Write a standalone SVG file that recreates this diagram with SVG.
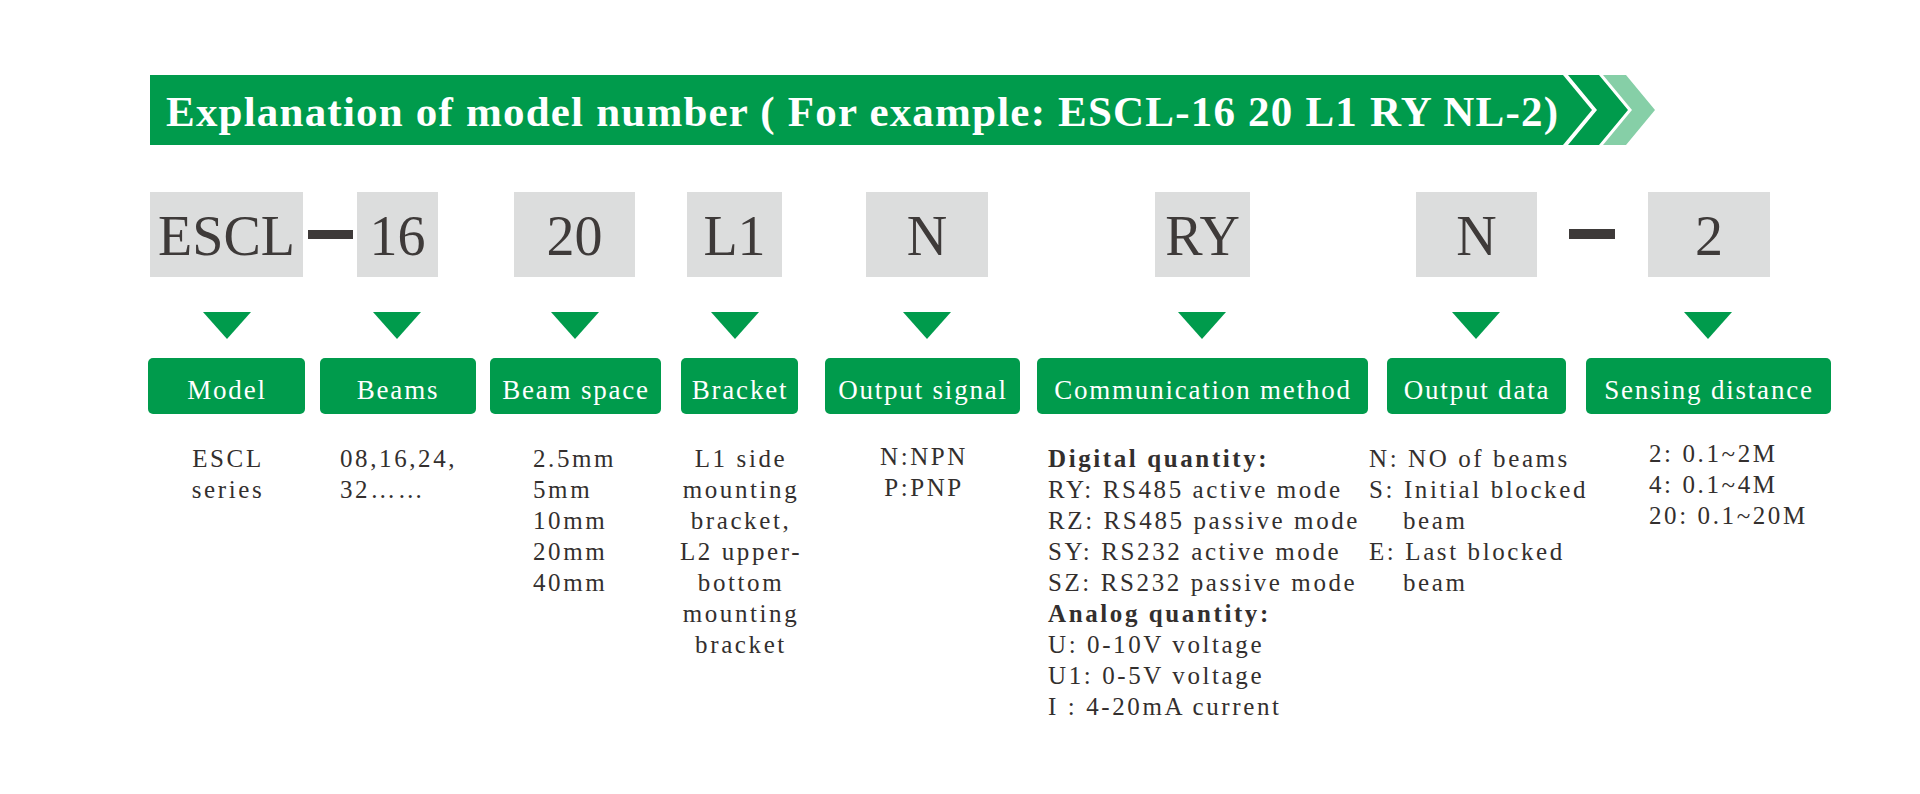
<svg xmlns="http://www.w3.org/2000/svg" width="1920" height="794" viewBox="0 0 1920 794">
<style>
.code{fill:#dcdddd}
.codet{font-family:"Liberation Serif",serif;font-size:56px;fill:#3e3a39;text-anchor:middle}
.lab{fill:#009b4c}
.labt{font-family:"Liberation Serif",serif;font-size:27px;fill:#ffffff;text-anchor:middle;letter-spacing:1.8px}
.d{font-family:"Liberation Serif",serif;font-size:25px;fill:#332f2e;letter-spacing:2.6px}
.m{text-anchor:middle}
.b{font-weight:bold}
.dash{fill:#3e3a39}
.tri{fill:#009b4c}
</style>
<rect width="1920" height="794" fill="#ffffff"/>
<g id="banner">
<polygon points="150,75 1563,75 1592,110 1563,145 150,145" fill="#009b4c"/>
<polygon points="1568,75 1599,75 1628,110 1599,145 1568,145 1597,110" fill="#009b4c"/>
<polygon points="1603,75 1626,75 1655,110 1626,145 1603,145 1632,110" fill="#86cfa7"/>
<text x="166" y="126" font-family="'Liberation Serif',serif" font-size="43" font-weight="bold" fill="#ffffff" textLength="1392" lengthAdjust="spacing">Explanation of model number ( For example: ESCL-16 20 L1 RY NL-2)</text>
</g>
<g id="separators">
<rect class="dash" x="308" y="230" width="45" height="9"/>
<rect class="dash" x="1569" y="229" width="46" height="10"/>
</g>
<g id="connectors">
<polygon class="tri" points="203,312 251,312 227,339"/>
<polygon class="tri" points="373,312 421,312 397,339"/>
<polygon class="tri" points="551,312 599,312 575,339"/>
<polygon class="tri" points="711,312 759,312 735,339"/>
<polygon class="tri" points="903,312 951,312 927,339"/>
<polygon class="tri" points="1178,312 1226,312 1202,339"/>
<polygon class="tri" points="1452,312 1500,312 1476,339"/>
<polygon class="tri" points="1684,312 1732,312 1708,339"/>
</g>
<g id="code-escl"><rect class="code" x="150" y="192" width="153" height="85"/><text class="codet" x="226.5" y="255">ESCL</text></g>
<g id="code-16"><rect class="code" x="357" y="192" width="81" height="85"/><text class="codet" x="397.5" y="255">16</text></g>
<g id="code-20"><rect class="code" x="514" y="192" width="121" height="85"/><text class="codet" x="574.5" y="255">20</text></g>
<g id="code-l1"><rect class="code" x="687" y="192" width="95" height="85"/><text class="codet" x="734.5" y="255">L1</text></g>
<g id="code-n"><rect class="code" x="866" y="192" width="122" height="85"/><text class="codet" x="927" y="255">N</text></g>
<g id="code-ry"><rect class="code" x="1155" y="192" width="95" height="85"/><text class="codet" x="1202.5" y="255">RY</text></g>
<g id="code-n2"><rect class="code" x="1416" y="192" width="121" height="85"/><text class="codet" x="1476.5" y="255">N</text></g>
<g id="code-2"><rect class="code" x="1648" y="192" width="122" height="85"/><text class="codet" x="1709" y="255">2</text></g>
<g id="label-model"><rect class="lab" x="148" y="358" width="157" height="56" rx="5"/><text class="labt" x="227" y="399">Model</text></g>
<g id="label-beams"><rect class="lab" x="320" y="358" width="156" height="56" rx="5"/><text class="labt" x="398" y="399">Beams</text></g>
<g id="label-beamspace"><rect class="lab" x="490" y="358" width="171" height="56" rx="5"/><text class="labt" x="576" y="399">Beam space</text></g>
<g id="label-bracket"><rect class="lab" x="681" y="358" width="117" height="56" rx="5"/><text class="labt" x="740" y="399">Bracket</text></g>
<g id="label-output"><rect class="lab" x="825" y="358" width="195" height="56" rx="5"/><text class="labt" x="923" y="399">Output signal</text></g>
<g id="label-comm"><rect class="lab" x="1037" y="358" width="331" height="56" rx="5"/><text class="labt" x="1203" y="399">Communication method</text></g>
<g id="label-outdata"><rect class="lab" x="1387" y="358" width="179" height="56" rx="5"/><text class="labt" x="1477" y="399">Output data</text></g>
<g id="label-sensing"><rect class="lab" x="1586" y="358" width="245" height="56" rx="5"/><text class="labt" x="1709" y="399">Sensing distance</text></g>
<g id="desc-model">
<text class="d m" x="228" y="467">ESCL</text>
<text class="d m" x="228" y="498">series</text>
</g>
<g id="desc-beams">
<text class="d" x="340" y="467">08,16,24,</text>
<text class="d" x="340" y="498">32……</text>
</g>
<g id="desc-beamspace">
<text class="d" x="533" y="467">2.5mm</text>
<text class="d" x="533" y="498">5mm</text>
<text class="d" x="533" y="529">10mm</text>
<text class="d" x="533" y="560">20mm</text>
<text class="d" x="533" y="591">40mm</text>
</g>
<g id="desc-bracket">
<text class="d m" x="741" y="467">L1 side</text>
<text class="d m" x="741" y="498">mounting</text>
<text class="d m" x="741" y="529">bracket,</text>
<text class="d m" x="741" y="560">L2 upper-</text>
<text class="d m" x="741" y="591">bottom</text>
<text class="d m" x="741" y="622">mounting</text>
<text class="d m" x="741" y="653">bracket</text>
</g>
<g id="desc-output">
<text class="d m" x="924" y="465">N:NPN</text>
<text class="d m" x="924" y="496">P:PNP</text>
</g>
<g id="desc-comm">
<text class="d b" x="1048" y="467">Digital quantity:</text>
<text class="d" x="1048" y="498">RY: RS485 active mode</text>
<text class="d" x="1048" y="529">RZ: RS485 passive mode</text>
<text class="d" x="1048" y="560">SY: RS232 active mode</text>
<text class="d" x="1048" y="591">SZ: RS232 passive mode</text>
<text class="d b" x="1048" y="622">Analog quantity:</text>
<text class="d" x="1048" y="653">U: 0-10V voltage</text>
<text class="d" x="1048" y="684">U1: 0-5V voltage</text>
<text class="d" x="1048" y="715">I : 4-20mA current</text>
</g>
<g id="desc-outdata">
<text class="d" x="1369" y="467">N: NO of beams</text>
<text class="d" x="1369" y="498">S: Initial blocked</text>
<text class="d" x="1403" y="529">beam</text>
<text class="d" x="1369" y="560">E: Last blocked</text>
<text class="d" x="1403" y="591">beam</text>
</g>
<g id="desc-sensing">
<text class="d" x="1649" y="462">2: 0.1~2M</text>
<text class="d" x="1649" y="493">4: 0.1~4M</text>
<text class="d" x="1649" y="524">20: 0.1~20M</text>
</g>
</svg>
